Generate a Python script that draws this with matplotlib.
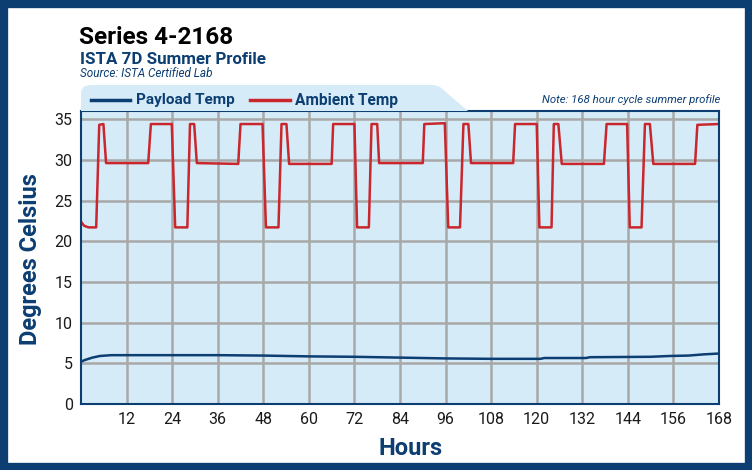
import matplotlib
matplotlib.use("Agg")
import matplotlib.pyplot as plt
from matplotlib.patches import Rectangle, Polygon
from matplotlib.lines import Line2D

# ---- data ----
ambient_hours = [0, 0.8, 2, 4.0, 4.8, 5.9, 6.6, 17.7, 18.4, 23.9, 24.8, 28.0, 28.7, 29.8,
                 30.5, 41.4, 42.0, 47.8, 48.7, 52.0, 52.8, 54.1, 54.8, 66.0, 66.4, 72.0,
                 72.7, 75.8, 76.5, 78.0, 78.5, 90.0, 90.4, 95.8, 96.7, 99.8, 100.7, 102.0,
                 102.7, 113.8, 114.3, 120.0, 120.7, 123.9, 124.5, 125.7, 126.6, 137.7,
                 138.4, 143.8, 144.5, 147.6, 148.5, 149.8, 150.7, 161.7, 162.3, 168]
ambient_temp = [22.4, 21.9, 21.7, 21.7, 34.3, 34.4, 29.6, 29.6, 34.4, 34.4, 21.7, 21.7, 34.4, 34.4,
                29.6, 29.5, 34.4, 34.4, 21.7, 21.7, 34.4, 34.4, 29.5, 29.5, 34.4, 34.4,
                21.7, 21.7, 34.4, 34.4, 29.6, 29.6, 34.4, 34.5, 21.7, 21.7, 34.4, 34.4,
                29.6, 29.6, 34.4, 34.4, 21.7, 21.7, 34.4, 34.4, 29.5, 29.5,
                34.4, 34.4, 21.7, 21.7, 34.4, 34.4, 29.5, 29.5, 34.3, 34.4]

payload_hours = [0, 1, 2, 3, 5, 8, 24, 36, 48, 60, 72, 84, 96, 108, 121, 122, 133, 134,
                 150, 155, 160, 164, 168]
payload_temp = [5.2, 5.4, 5.55, 5.7, 5.9, 6.0, 6.0, 6.0, 5.95, 5.85, 5.8, 5.7, 5.6, 5.55,
                5.55, 5.65, 5.65, 5.75, 5.8, 5.9, 5.95, 6.1, 6.2]

x_ticks = [12, 24, 36, 48, 60, 72, 84, 96, 108, 120, 132, 144, 156, 168]
y_ticks = [0, 5, 10, 15, 20, 25, 30, 35]

title = "Series 4-2168"
subtitle = "ISTA 7D Summer Profile"
source = "Source: ISTA Certified Lab"
note = "Note: 168 hour cycle summer profile"

# ---- style ----
NAVY = "#0c3e72"
RED = "#c9262d"
BG = "#d5ecf8"
GRID = "#a8a8a8"
FONT = "Roboto"

W, H = 752, 470
fig = plt.figure(figsize=(W / 100, H / 100), dpi=100)
fig.patch.set_facecolor("white")

def fx(px):
    return px / W

def fy(py):
    return 1 - py / H

# outer border
fig.patches.append(Rectangle((fx(3.5), fy(466.5)), fx(745), 463 / H, transform=fig.transFigure,
                             fill=False, edgecolor=NAVY, linewidth=6, zorder=0))

# legend banner
banner = Polygon([(fx(81), fy(111)), (fx(81), fy(91)), (fx(84), fy(86.5)), (fx(90), fy(85)),
                  (fx(434), fy(85)), (fx(440), fy(87)), (fx(468), fy(111))],
                 closed=True, transform=fig.transFigure, facecolor=BG, edgecolor="none", zorder=0)
fig.patches.append(banner)

ax = fig.add_axes([fx(81), fy(404), fx(719) - fx(81), (404 - 111) / H])
ax.set_facecolor(BG)
ax.plot(ambient_hours, ambient_temp, color=RED, linewidth=1.8, zorder=3)
ax.plot(payload_hours, payload_temp, color=NAVY, linewidth=1.8, zorder=3)

ax.set_xlim(0, 168)
ax.set_ylim(0, 36)
ax.set_xticks(x_ticks)
ax.set_yticks(y_ticks)
ax.grid(True, color=GRID, linewidth=1.8, zorder=1)
ax.set_axisbelow(True)
ax.tick_params(length=0, labelsize=11.5, colors="#1a1a1a", pad=6)
for lab in ax.get_xticklabels() + ax.get_yticklabels():
    lab.set_fontfamily(FONT)
for s in ax.spines.values():
    s.set_color(NAVY)
    s.set_linewidth(1.5)
    s.set_zorder(4)

ax.set_xlabel("Hours", fontsize=17, fontweight="bold", color=NAVY, family=FONT)
ax.xaxis.set_label_coords(0.516, -0.112)
ax.set_ylabel("Degrees Celsius", fontsize=17, fontweight="bold", color=NAVY, family=FONT)
ax.yaxis.set_label_coords(-0.061, 0.495)

# titles
fig.text(fx(79), fy(37), title, fontsize=17.5, fontweight="bold", color="black", family=FONT, va="center")
fig.text(fx(80), fy(60), subtitle, fontsize=12.2, fontweight="bold", color=NAVY, family=FONT, va="center")
fig.text(fx(80), fy(73.5), source, fontsize=8.5, style="italic", color=NAVY, family=FONT, va="center")
fig.text(fx(720), fy(100), note, fontsize=8.2, style="italic", color=NAVY, family=FONT,
         va="center", ha="right")

# legend
fig.lines.append(Line2D([fx(91), fx(130)], [fy(100), fy(100)], transform=fig.transFigure,
                        color=NAVY, linewidth=2.5))
fig.text(fx(136), fy(100), "Payload Temp", fontsize=11, fontweight="bold", color=NAVY,
         family=FONT, va="center")
fig.lines.append(Line2D([fx(250), fx(290)], [fy(100), fy(100)], transform=fig.transFigure,
                        color=RED, linewidth=2.5))
fig.text(fx(295), fy(100), "Ambient Temp", fontsize=11.2, fontweight="bold", color=NAVY,
         family=FONT, va="center")

fig.savefig("out.png", dpi=100, facecolor="white")
